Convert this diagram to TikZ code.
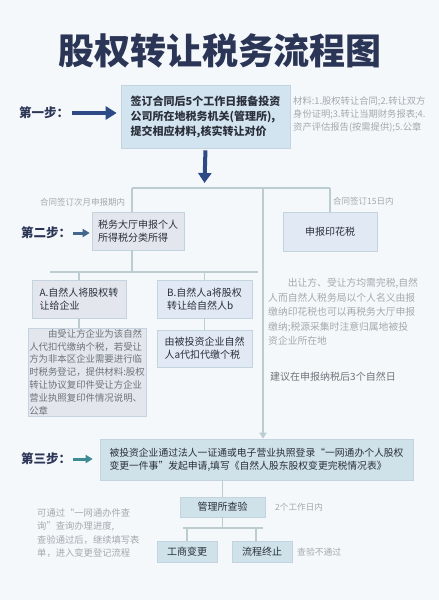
\documentclass[tikz,border=0pt]{standalone}
\usepackage{fontspec}
\setmainfont{Noto Sans CJK SC}
\usetikzlibrary{arrows.meta, positioning, calc}
\definecolor{titlenavy}{HTML}{2B3556}
\definecolor{stepnavy}{HTML}{2E4A86}
\definecolor{steptwo}{HTML}{43678F}
\definecolor{stepteal}{HTML}{3D8C94}
\definecolor{pagebg}{HTML}{F5F8FB}
\definecolor{linkline}{HTML}{BCCDD2}
\definecolor{boxedge}{HTML}{C3D3DF}
\definecolor{fillone}{HTML}{D3E4F1}
\definecolor{fillgray}{HTML}{E3E7ED}
\definecolor{fillblue}{HTML}{E1EAF4}
\definecolor{fillteal}{HTML}{CFE2E9}
\definecolor{boxtext}{HTML}{2A2F3A}
\definecolor{notegray}{HTML}{6E737A}
\definecolor{notelight}{HTML}{A4A9AF}

\begin{document}
\begin{tikzpicture}[x=1pt, y=-1pt,
    box/.style={draw=boxedge, line width=0.6pt, fill=#1, align=left, text=boxtext, inner sep=0pt},
    note/.style={align=left, text=notelight, inner sep=0pt},
    link/.style={draw=linkline, line width=1.3pt},
    steplabel/.style={font=\fontsize{12.5}{14}\selectfont\bfseries, text=titlenavy, anchor=west, inner sep=0pt}]
    \fill[pagebg] (0,0) rectangle (439,600);
    \useasboundingbox (0,0) rectangle (439,600);

    \node[font=\fontsize{36}{36}\selectfont\bfseries, text=titlenavy] (title) at (220,51) {股权转让税务流程图};

    \node[steplabel] (s1) at (19,113) {第一步：};
    \node[box=fillone, minimum width=169pt, minimum height=63pt, font=\fontsize{11}{15}\selectfont\bfseries] (b1) at (205.5,116.5) {签订合同后5个工作日报备投资\\公司所在地税务机关(管理所),\\提交相应材料,核实转让对价};
    \node[note, anchor=north west, font=\fontsize{9.3}{13}\selectfont] (mat) at (293,96) {材料:1.股权转让合同;2.转让双方\\身份证明;3.转让当期财务报表;4.\\资产评估报告(按需提供);5.公章};
    \coordinate (top) at (204.5,183);
    \draw[line width=4pt, stepnavy, -{Triangle[length=11pt,width=13pt]}, shorten <=3pt, shorten >=4pt] (s1.east) -- (s1.east -| b1.west);
    \draw[line width=4pt, stepnavy, -{Triangle[length=10pt,width=13pt]}, shorten <=2pt] (b1.south) -- (top);

    \coordinate (h1l) at (132,188);
    \coordinate (h1m) at (263,188);
    \coordinate (h1r) at (330,188);
    \coordinate (h2l) at (50,272);
    \coordinate (h2r) at (258,272);

    \node[note, anchor=west, font=\fontsize{8.5}{10}\selectfont] (lbl1) at (40,202) {合同签订次月申报期内};
    \node[note, anchor=west, font=\fontsize{8.5}{10}\selectfont] (lbl2) at (333,201) {合同签订15日内};

    \node[steplabel] (s2) at (21,233) {第二步：};
    \node[box=fillgray, minimum width=92pt, minimum height=38pt, font=\fontsize{10}{13}\selectfont] (b2) at (138,231) {税务大厅申报个人\\所得税分类所得};
    \node[box=fillblue, minimum width=94pt, minimum height=39pt, font=\fontsize{10}{13}\selectfont] (yh) at (330,231.5) {申报印花税};
    \draw[line width=3pt, steptwo, -{Triangle[length=7pt,width=8pt]}, shorten <=2pt, shorten >=2pt] (s2.east) -- (s2.east -| b2.west);

    \draw[link] (h1l) -- (h1r);
    \draw[link] (h1l) -- (h1l |- b2.north);
    \draw[link] (h1l |- b2.south) -- (h1l |- h2l);
    \draw[link] (h1r) -- (yh.north);

    \node[box=fillgray, minimum width=94pt, minimum height=38pt, font=\fontsize{10}{13}\selectfont] (pa) at (79,299) {A.自然人将股权转\\让给企业};
    \node[box=fillgray, minimum width=118pt, minimum height=88pt, font=\fontsize{9.4}{12.8}\selectfont, text=notegray] (pa2) at (87,372) {\hspace*{2em}由受让方企业为该自然\\人代扣代缴纳个税，若受让\\方为非本区企业需要进行临\\时税务登记，提供材料:股权\\转让协议复印件受让方企业\\营业执照复印件情况说明、\\公章};
    \node[box=fillblue, minimum width=95pt, minimum height=38pt, font=\fontsize{10}{13}\selectfont] (pb) at (204.5,299) {B.自然人a将股权\\转让给自然人b};
    \node[box=fillblue, minimum width=95pt, minimum height=37pt, font=\fontsize{10}{13}\selectfont] (pb2) at (204.5,348.5) {由被投资企业自然\\人a代扣代缴个税};

    \draw[link] (h2l) -- (h2r);
    \draw[link] (pa.north |- h2l) -- (pa.north);
    \draw[link] (pb.north |- h2l) -- (pb.north);
    \draw[link] (pa.south) -- (pa.south |- pa2.north);
    \draw[link] (pb.south) -- (pb2.north);

    \node[note, anchor=north west, font=\fontsize{9.8}{14.5}\selectfont] (yhnote) at (268,278) {\hspace*{2em}出让方、受让方均需完税,自然\\人而自然人税务局以个人名义由报\\缴纳印花税也可以再税务大厅申报\\缴纳;税源采集时注意归属地被投\\资企业所在地};
    \node[note, anchor=west, font=\fontsize{10}{12}\selectfont, text=notegray] (advice) at (270,377) {建议在申报纳税后3个自然日};

    \node[steplabel] (s3) at (21,459) {第三步：};
    \node[box=fillteal, minimum width=313pt, minimum height=41pt, font=\fontsize{9.8}{13}\selectfont] (b3) at (256.5,459.5) {被投资企业通过法人一证通或电子营业执照登录“一网通办个人股权\\变更一件事”发起申请,填写《自然人股东股权变更完税情况表》};
    \draw[line width=3pt, stepteal, -{Triangle[length=7pt,width=8pt]}, shorten <=2pt, shorten >=7pt] (s3.east) -- (s3.east -| b3.west);
    \draw[link, -{Triangle[length=6pt,width=7pt]}] (h1m) -- (h1m |- b3.north);

    \node[box=fillteal, minimum width=85pt, minimum height=20pt, font=\fontsize{10}{12}\selectfont] (cy) at (222.5,507) {管理所查验};
    \node[note, anchor=west, font=\fontsize{8.6}{10}\selectfont] (cynote) at (275,507) {2个工作日内};
    \draw[link] (b3.south -| cy.north) -- (cy.north);

    \coordinate (c3) at (222.5,528);
    \coordinate (c3l) at (183,528);
    \coordinate (c3r) at (263,528);
    \coordinate (c3s) at (256,528);
    \node[box=fillteal, minimum width=60pt, minimum height=21pt, font=\fontsize{10}{12}\selectfont] (gs) at (187,551.5) {工商变更};
    \node[box=fillteal, minimum width=60pt, minimum height=21pt, font=\fontsize{10}{12}\selectfont] (lz) at (262,551.5) {流程终止};
    \node[note, anchor=west, font=\fontsize{8.8}{10}\selectfont] (lznote) at (297,552) {查验不通过};
    \draw[link] (cy.south) -- (c3);
    \draw[link] (c3l) -- (c3r);
    \draw[link] (gs.north |- c3) -- (gs.north);
    \draw[link] (c3s) -- (c3s |- lz.north);

    \node[note, anchor=north west, font=\fontsize{9.3}{13.5}\selectfont] (leftnote) at (37,508) {可通过“一网通办件查\\询”查询办理进度,\\查验通过后，继续填写表\\单，进入变更登记流程};
\end{tikzpicture}
\end{document}
